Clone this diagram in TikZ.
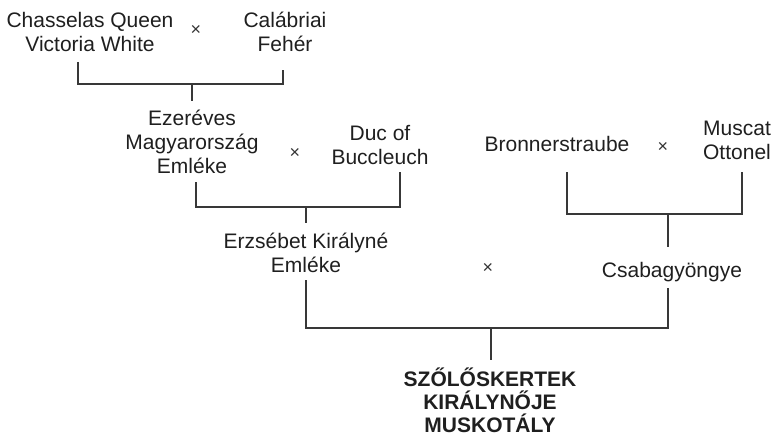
\documentclass[tikz,border=0pt]{standalone}
\usepackage{fontspec}
\setmainfont{Liberation Sans}
\begin{document}
\begin{tikzpicture}[x=1pt,y=-1pt,
  lbl/.style={font=\fontsize{21}{24}\selectfont, align=center, inner sep=0pt, text=black!88},
  ttl/.style={font=\fontsize{21}{23}\selectfont\bfseries, align=center, inner sep=0pt, text=black!88},
  cross/.style={font=\fontsize{18}{18}\selectfont, inner sep=0pt, text=black!80},
  link/.style={draw=black!78, line width=1.3pt}]
\useasboundingbox (0,0) rectangle (772,436);

% generation 1
\node[lbl] (cq) at (90,32) {Chasselas Queen\\Victoria White};
\node[cross] (x1) at (196,30) {×};
\node[lbl] (cf) at (285,32) {Calábriai\\Fehér};

% generation 2
\node[lbl] (em) at (192,142) {Ezeréves\\Magyarország\\Emléke};
\node[cross] (x2) at (295,153) {×};
\node[lbl] (db) at (380,145) {Duc of\\Buccleuch};

\node[lbl] (br) at (557,144) {Bronnerstraube};
\node[cross] (x4) at (663,147) {×};
\node[lbl] (mo) at (737,140) {Muscat\\Ottonel};

% generation 3
\node[lbl] (ek) at (306,253) {Erzsébet Királyné\\Emléke};
\node[cross] (x3) at (488,268) {×};
\node[lbl] (cs) at (672,272) {Csabagyöngye};

% result
\node[ttl] (sz) at (490,400) {SZŐLŐSKERTEK\\KIRÁLYNŐJE\\MUSKOTÁLY};

% bracket 1
\coordinate (a1) at (78,62);
\coordinate (a2) at (283,70);
\coordinate (am) at (192,84);
\coordinate (ae) at (192,101);
\draw[link] (a1) |- (am) -| (a2);
\draw[link] (am) -- (ae);

% bracket 2
\coordinate (b1) at (196,182);
\coordinate (b2) at (400,172);
\coordinate (bm) at (306,207);
\coordinate (be) at (306,223);
\draw[link] (b1) |- (bm) -| (b2);
\draw[link] (bm) -- (be);

% bracket 3
\coordinate (c1) at (567,172);
\coordinate (c2) at (742,172);
\coordinate (cm) at (668,214);
\coordinate (ce) at (668,247);
\draw[link] (c1) |- (cm) -| (c2);
\draw[link] (cm) -- (ce);

% bracket 4
\coordinate (d1) at (306,280);
\coordinate (d2) at (668,288);
\coordinate (dm) at (491,328);
\coordinate (de) at (491,360);
\draw[link] (d1) |- (dm) -| (d2);
\draw[link] (dm) -- (de);
\end{tikzpicture}
\end{document}
